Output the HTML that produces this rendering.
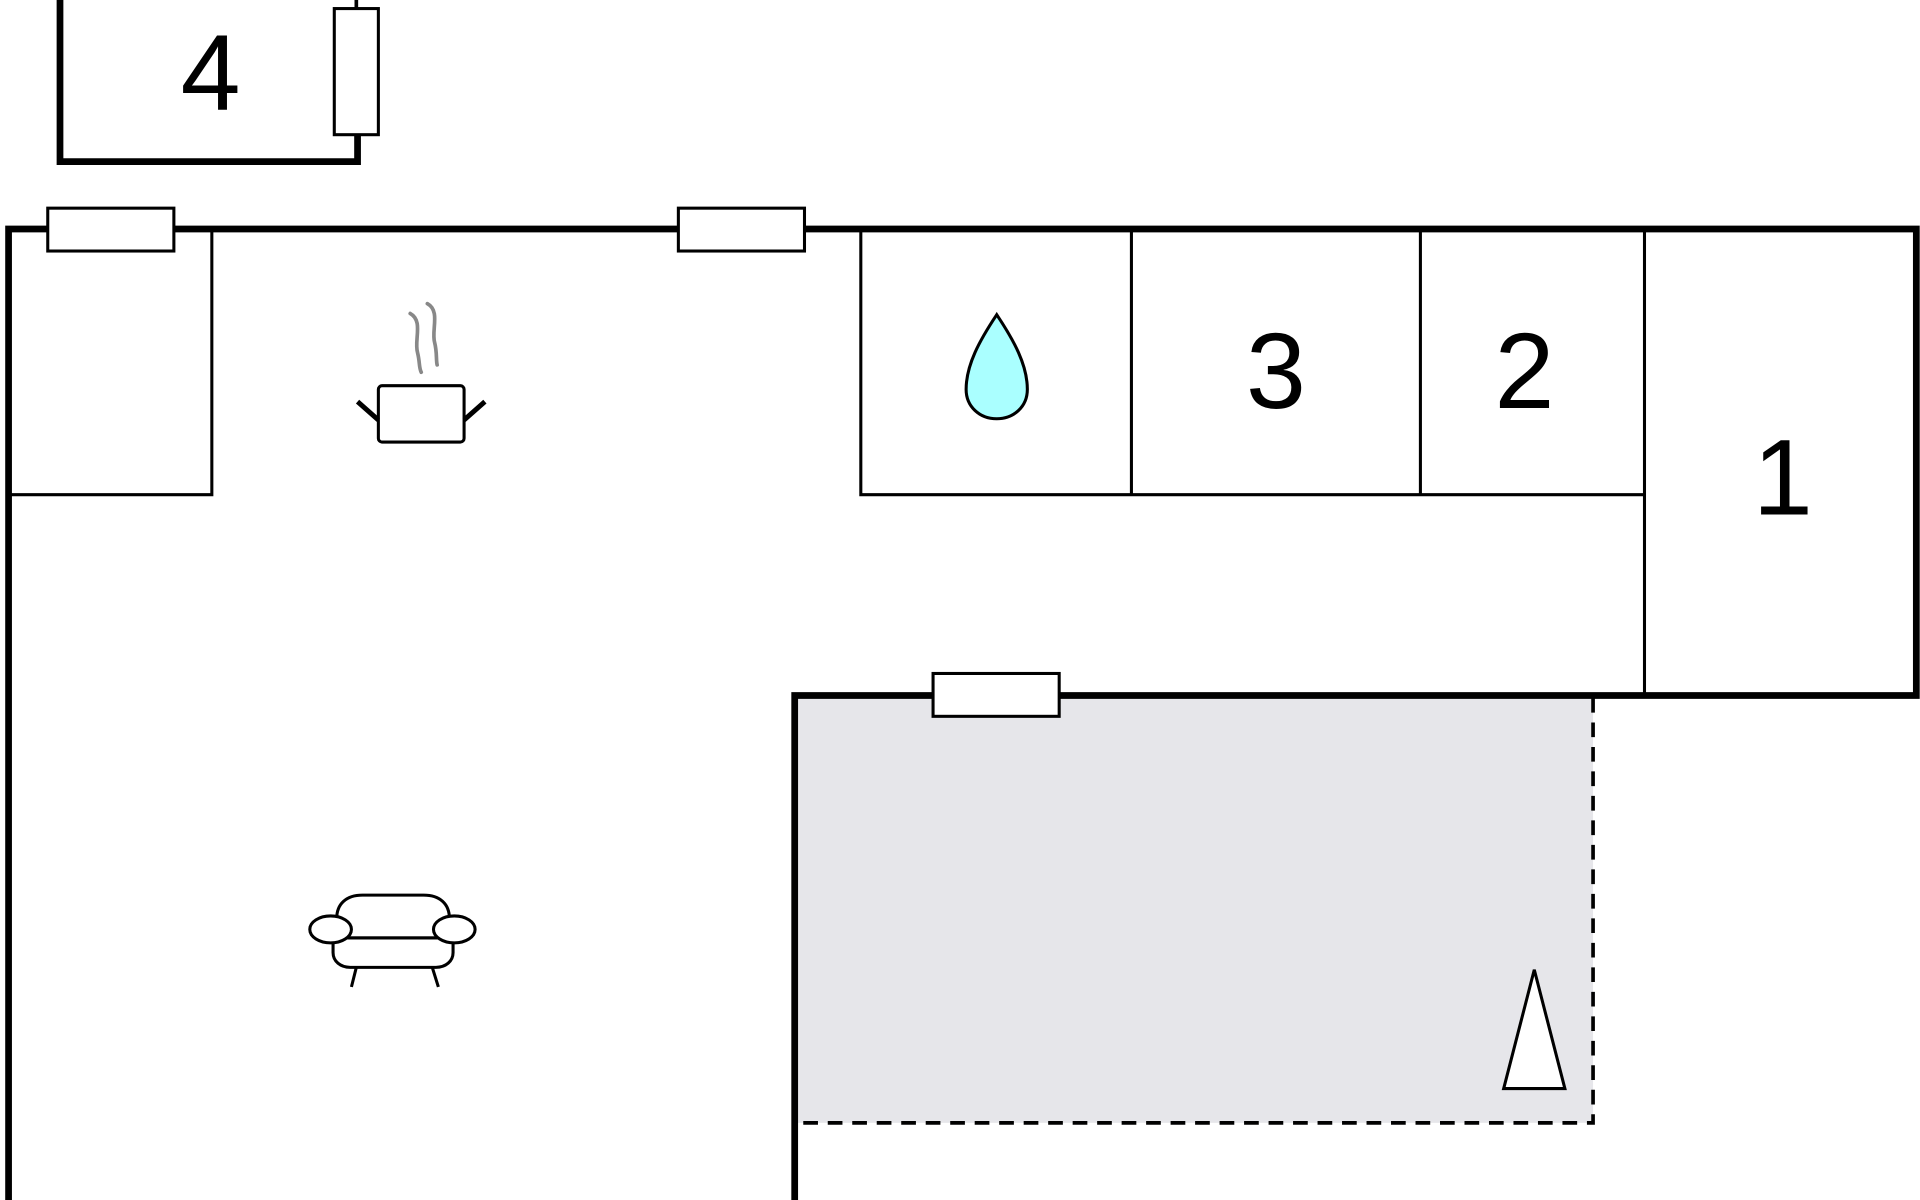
<!DOCTYPE html>
<html><head><meta charset="utf-8"><style>html,body{margin:0;padding:0;background:#fff}svg{display:block}</style></head>
<body>
<svg width="1920" height="1200" viewBox="0 0 1568 980" xmlns="http://www.w3.org/2000/svg">
<rect width="1568" height="980" fill="#fff"/>
<!-- patio -->
<rect x="651" y="570" width="650" height="347" fill="#e6e6ea"/>
<path d="M1301 570 V917 H651" fill="none" stroke="#000" stroke-width="3" stroke-dasharray="12,8"/>
<polygon points="1253,792 1228,889 1278,889" fill="#fff" stroke="#000" stroke-width="2.5"/>
<!-- room 4 -->
<path d="M49 0 V132 H292 V110" fill="none" stroke="#000" stroke-width="5.5"/>
<line x1="291" y1="0" x2="291" y2="8" stroke="#000" stroke-width="3"/>
<rect x="273" y="7" width="36" height="103" fill="#fff" stroke="#000" stroke-width="2.5"/>
<text x="172" y="90" font-family="Liberation Sans, sans-serif" font-size="88" text-anchor="middle">4</text>
<!-- thick walls -->
<path d="M7 980 V187 H1565 V568 H649 V980" fill="none" stroke="#000" stroke-width="5.5"/>
<!-- thin walls -->
<g stroke="#000" stroke-width="2.5" fill="none">
<path d="M7 404 H173 V187"/>
<path d="M703 187 V404 H1343"/>
<line x1="924" y1="187" x2="924" y2="404"/>
<line x1="1160" y1="187" x2="1160" y2="404"/>
<line x1="1343" y1="187" x2="1343" y2="568"/>
</g>
<!-- windows -->
<g fill="#fff" stroke="#000" stroke-width="2.5">
<rect x="39" y="170" width="103" height="35"/>
<rect x="554" y="170" width="103" height="35"/>
<rect x="762" y="550" width="103" height="35"/>
</g>
<!-- numbers -->
<g font-family="Liberation Sans, sans-serif" font-size="88" text-anchor="middle">
<text x="1042" y="333">3</text>
<text x="1245" y="333">2</text>
<text x="1456" y="420">1</text>
</g>
<!-- drop -->
<path d="M814 257 C800 278 789 298 789 318 C789 332 800 342 814 342 C828 342 839 332 839 318 C839 298 828 278 814 257 Z" fill="#aaffff" stroke="#000" stroke-width="2.5"/>
<!-- pot -->
<g fill="none" stroke="#000" stroke-width="2.5">
<rect x="309" y="315" width="70" height="46" rx="3"/>
<path d="M309 343 L292 328 M379 343 L396 328" stroke-width="4"/>
</g>
<g fill="none" stroke="#888" stroke-width="3" stroke-linecap="round">
<path d="M335 256 C346 262 338 278 341 288 C343 296 342 300 344 304"/>
<path d="M349 248 C360 254 352 270 355 280 C357 288 356 294 357 298"/>
</g>
<!-- sofa -->
<g fill="#fff" stroke="#000" stroke-width="2.5">
<path d="M275 750 C275 738 283 731 296 731 H346 C359 731 367 738 367 750 V766 H275 Z"/>
<path d="M272 766 H370 V778 C370 785 364 790 356 790 H286 C278 790 272 785 272 778 Z"/>
<ellipse cx="270" cy="759" rx="17" ry="11"/>
<ellipse cx="371" cy="759" rx="17" ry="11"/>
<path d="M291 790 L287 806 M353 790 L358 806"/>
</g>
</svg>
</body></html>
